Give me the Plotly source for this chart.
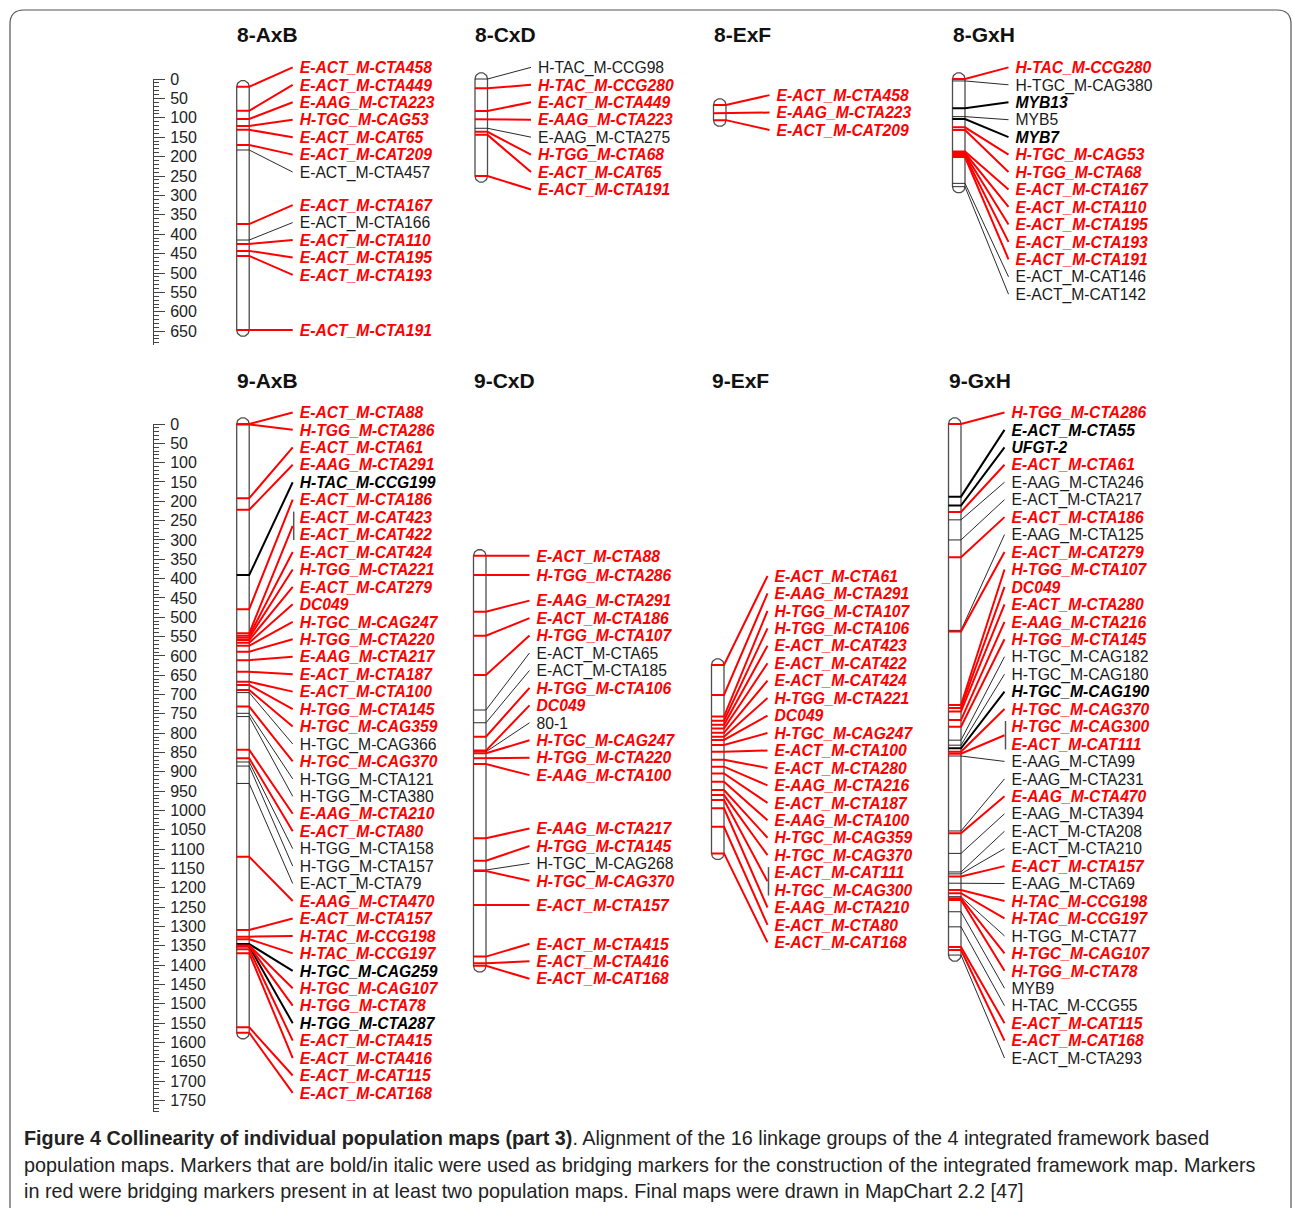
import math
import plotly.graph_objects as go

# ======================= DATA (cM positions) =======================
# kind: "r" = red bridging marker (bold italic), "b" = black marker, "k" = black bold italic marker
LG8_AXB_NAMES = ["E-ACT_M-CTA458", "E-ACT_M-CTA449", "E-AAG_M-CTA223", "H-TGC_M-CAG53",
                 "E-ACT_M-CAT65", "E-ACT_M-CAT209", "E-ACT_M-CTA457", "E-ACT_M-CTA167",
                 "E-ACT_M-CTA166", "E-ACT_M-CTA110", "E-ACT_M-CTA195", "E-ACT_M-CTA193",
                 "E-ACT_M-CTA191"]
LG8_AXB_CM = [20, 82, 103, 121, 131, 170, 183, 374, 415, 425, 443, 456, 647]
LG8_AXB_KIND = ["r", "r", "r", "r", "r", "r", "b", "r", "b", "r", "r", "r", "r"]

LG8_CXD_NAMES = ["H-TAC_M-CCG98", "H-TAC_M-CCG280", "E-ACT_M-CTA449", "E-AAG_M-CTA223",
                 "E-AAG_M-CTA275", "H-TGG_M-CTA68", "E-ACT_M-CAT65", "E-ACT_M-CTA191"]
LG8_CXD_CM = [0, 24, 82.5, 104, 127, 136, 144, 250]
LG8_CXD_KIND = ["b", "r", "r", "r", "b", "r", "r", "r"]

LG8_EXF_NAMES = ["E-ACT_M-CTA458", "E-AAG_M-CTA223", "E-ACT_M-CAT209"]
LG8_EXF_CM = [67, 88, 106]
LG8_EXF_KIND = ["r", "r", "r"]

LG8_GXH_NAMES = ["H-TAC_M-CCG280", "H-TGC_M-CAG380", "MYB13", "MYB5", "MYB7",
                 "H-TGC_M-CAG53", "H-TGG_M-CTA68", "E-ACT_M-CTA167", "E-ACT_M-CTA110",
                 "E-ACT_M-CTA195", "E-ACT_M-CTA193", "E-ACT_M-CTA191", "E-ACT_M-CAT146",
                 "E-ACT_M-CAT142"]
LG8_GXH_CM = [0, 5, 75.5, 97, 103, 124.5, 131.5, 187, 191, 194, 198, 201, 269, 277.5]
LG8_GXH_KIND = ["r", "b", "k", "b", "k", "r", "r", "r", "r", "r", "r", "r", "b", "b"]

LG9_AXB_NAMES = ["E-ACT_M-CTA88", "H-TGG_M-CTA286", "E-ACT_M-CTA61", "E-AAG_M-CTA291",
                 "H-TAC_M-CCG199", "E-ACT_M-CTA186", "E-ACT_M-CAT423", "E-ACT_M-CAT422",
                 "E-ACT_M-CAT424", "H-TGG_M-CTA221", "E-ACT_M-CAT279", "DC049",
                 "H-TGC_M-CAG247", "H-TGG_M-CTA220", "E-AAG_M-CTA217", "E-ACT_M-CTA187",
                 "E-ACT_M-CTA100", "H-TGG_M-CTA145", "H-TGC_M-CAG359", "H-TGC_M-CAG366",
                 "H-TGC_M-CAG370", "H-TGG_M-CTA121", "H-TGG_M-CTA380", "E-AAG_M-CTA210",
                 "E-ACT_M-CTA80", "H-TGG_M-CTA158", "H-TGG_M-CTA157", "E-ACT_M-CTA79",
                 "E-AAG_M-CTA470", "E-ACT_M-CTA157", "H-TAC_M-CCG198", "H-TAC_M-CCG197",
                 "H-TGC_M-CAG259", "H-TGC_M-CAG107", "H-TGG_M-CTA78", "H-TGG_M-CTA287",
                 "E-ACT_M-CTA415", "E-ACT_M-CTA416", "E-ACT_M-CAT115", "E-ACT_M-CAT168"]
LG9_AXB_CM = [0, 1, 192, 222, 391, 479, 541.5, 541.5, 548, 553, 559, 566, 574, 589, 611, 641,
              667, 675, 688, 695, 731, 748.5, 757, 843, 865, 874.5, 885, 930, 1119.5, 1309,
              1326.5, 1333, 1345.5, 1349, 1350.5, 1352, 1359, 1369.5, 1561, 1575]
LG9_AXB_KIND = ["r", "r", "r", "r", "k", "r", "r", "r", "r", "r", "r", "r", "r", "r", "r", "r",
                "r", "r", "r", "b", "r", "b", "b", "r", "r", "b", "b", "b", "r", "r", "r", "r",
                "k", "r", "r", "k", "r", "r", "r", "r"]

LG9_CXD_NAMES = ["E-ACT_M-CTA88", "H-TGG_M-CTA286", "E-AAG_M-CTA291", "E-ACT_M-CTA186",
                 "H-TGG_M-CTA107", "E-ACT_M-CTA65", "E-ACT_M-CTA185", "H-TGG_M-CTA106",
                 "DC049", "80-1", "H-TGC_M-CAG247", "H-TGG_M-CTA220", "E-AAG_M-CTA100",
                 "E-AAG_M-CTA217", "H-TGG_M-CTA145", "H-TGC_M-CAG268", "H-TGC_M-CAG370",
                 "E-ACT_M-CTA157", "E-ACT_M-CTA415", "E-ACT_M-CTA416", "E-ACT_M-CAT168"]
LG9_CXD_CM = [341, 390.5, 485.5, 548, 649.5, 740, 773, 809, 845, 848, 852, 865, 880,
              1072, 1130, 1154, 1156.5, 1244.5, 1378, 1395.5, 1402]
LG9_CXD_KIND = ["r", "r", "r", "r", "r", "b", "b", "r", "r", "b", "r", "r", "r",
                "r", "r", "b", "r", "r", "r", "r", "r"]

LG9_EXF_NAMES = ["E-ACT_M-CTA61", "E-AAG_M-CTA291", "H-TGG_M-CTA107", "H-TGG_M-CTA106",
                 "E-ACT_M-CAT423", "E-ACT_M-CAT422", "E-ACT_M-CAT424", "H-TGG_M-CTA221",
                 "DC049", "H-TGC_M-CAG247", "E-ACT_M-CTA100", "E-ACT_M-CTA280",
                 "E-AAG_M-CTA216", "E-ACT_M-CTA187", "E-AAG_M-CTA100", "H-TGC_M-CAG359",
                 "H-TGC_M-CAG370", "E-ACT_M-CAT111", "H-TGC_M-CAG300", "E-AAG_M-CTA210",
                 "E-ACT_M-CTA80", "E-ACT_M-CAT168"]
LG9_EXF_CM = [623.5, 701, 757, 767.5, 778, 788, 799, 809, 817.5, 830.5, 848, 869, 886.5,
              904, 925.5, 947, 960, 973, 973, 994.5, 1042, 1111]
LG9_EXF_KIND = ["r"] * 22

LG9_GXH_NAMES = ["H-TGG_M-CTA286", "E-ACT_M-CTA55", "UFGT-2", "E-ACT_M-CTA61",
                 "E-AAG_M-CTA246", "E-ACT_M-CTA217", "E-ACT_M-CTA186", "E-AAG_M-CTA125",
                 "E-ACT_M-CAT279", "H-TGG_M-CTA107", "DC049", "E-ACT_M-CTA280",
                 "E-AAG_M-CTA216", "H-TGG_M-CTA145", "H-TGC_M-CAG182", "H-TGC_M-CAG180",
                 "H-TGC_M-CAG190", "H-TGC_M-CAG370", "H-TGC_M-CAG300", "E-ACT_M-CAT111",
                 "E-AAG_M-CTA99", "E-AAG_M-CTA231", "E-AAG_M-CTA470", "E-AAG_M-CTA394",
                 "E-ACT_M-CTA208", "E-ACT_M-CTA210", "E-ACT_M-CTA157", "E-AAG_M-CTA69",
                 "H-TAC_M-CCG198", "H-TAC_M-CCG197", "H-TGG_M-CTA77", "H-TGC_M-CAG107",
                 "H-TGG_M-CTA78", "MYB9", "H-TAC_M-CCG55", "E-ACT_M-CAT115",
                 "E-ACT_M-CAT168", "E-ACT_M-CTA293"]
LG9_GXH_CM = [0, 188, 211, 227.5, 248, 300, 345, 534, 537, 727, 735, 744, 766, 783, 818, 831,
              839, 848, 853, 853, 859, 1053, 1059, 1111, 1159, 1164, 1171, 1188, 1206, 1214,
              1223, 1227, 1231.5, 1262, 1301, 1353, 1361, 1374]
LG9_GXH_KIND = ["r", "k", "k", "r", "b", "b", "r", "b", "r", "r", "r", "r", "r", "r", "b", "b",
                "k", "r", "r", "r", "b", "b", "r", "b", "b", "b", "r", "b", "r", "r", "b", "r",
                "r", "b", "b", "r", "r", "b"]

TITLES = ["8-AxB", "8-CxD", "8-ExF", "8-GxH", "9-AxB", "9-CxD", "9-ExF", "9-GxH"]

CAPTION_BOLD = "Figure 4 Collinearity of individual population maps (part 3)"
CAPTION_LINES = [
    ". Alignment of the 16 linkage groups of the 4 integrated framework based",
    "population maps. Markers that are bold/in italic were used as bridging markers for the construction of the integrated framework map. Markers",
    "in red were bridging markers present in at least two population maps. Final maps were drawn in MapChart 2.2 [47]",
]

# ======================= LAYOUT / STYLE =======================
W, H = 1293, 1208
FONT = "Liberation Sans, Arial, Helvetica, sans-serif"
ROWS = {
    1: dict(y0=79.0, k=0.388, yaxis="y", scale_bottom=345.0, title_y=35.0),
    2: dict(y0=424.0, k=0.3865, yaxis="y2", scale_bottom=1112.0, title_y=381.0),
}
SCALE_X = 153.0
BAR_W = 12.5
LABEL_DX = 63.0
LINE_GAP = 7.0
LABEL_PITCH_PX = 17.45
TOP_LIMIT_CM = -30.0
LABEL_FONT_SIZE = 15.7
TEXT_DROP_PX = 1.8   # puts the visual centre of each label on its connector end

CHROMS = [
    (LG8_AXB_NAMES, LG8_AXB_CM, LG8_AXB_KIND, 1, 236.7),
    (LG8_CXD_NAMES, LG8_CXD_CM, LG8_CXD_KIND, 1, 475.0),
    (LG8_EXF_NAMES, LG8_EXF_CM, LG8_EXF_KIND, 1, 713.5),
    (LG8_GXH_NAMES, LG8_GXH_CM, LG8_GXH_KIND, 1, 952.5),
    (LG9_AXB_NAMES, LG9_AXB_CM, LG9_AXB_KIND, 2, 236.7),
    (LG9_CXD_NAMES, LG9_CXD_CM, LG9_CXD_KIND, 2, 473.5),
    (LG9_EXF_NAMES, LG9_EXF_CM, LG9_EXF_KIND, 2, 711.5),
    (LG9_GXH_NAMES, LG9_GXH_CM, LG9_GXH_KIND, 2, 948.5),
]

STYLE = {
    "r": dict(line="#ff0000", width=2.0, text="#ff0000", bold=True),
    "b": dict(line="#2a2a2a", width=1.0, text="#1a1a1a", bold=False),
    "k": dict(line="#000000", width=2.0, text="#000000", bold=True),
}


def place_labels(pos, pitch, top):
    """MapChart-like label placement: clusters centred on the midpoint of their markers."""
    def start_of(i0, i1):
        n = i1 - i0 + 1
        mid = (pos[i0] + pos[i1]) / 2.0
        return max(mid - (n - 1) * pitch / 2.0, top)

    clusters = []
    for i in range(len(pos)):
        clusters.append([i, i, start_of(i, i)])
        while len(clusters) > 1:
            a, b = clusters[-2], clusters[-1]
            end_a = a[2] + (a[1] - a[0]) * pitch
            if b[2] < end_a + pitch - 1e-9:
                clusters[-2:] = [[a[0], b[1], start_of(a[0], b[1])]]
            else:
                break
    out = [0.0] * len(pos)
    for i0, i1, s in clusters:
        for j in range(i0, i1 + 1):
            out[j] = s + (j - i0) * pitch
    return out


fig = go.Figure()
bar_traces, line_traces, text_traces = [], [], []

for names, cms, kinds, row, bx in CHROMS:
    rw = ROWS[row]
    k = rw["k"]
    yax = rw["yaxis"]
    r_px = BAR_W / 2.0
    r_cm = r_px / k
    cx = bx + r_px
    first, last = cms[0], cms[-1]

    # chromosome outline (rounded bar)
    xs, ys = [], []
    for i in range(25):
        th = math.pi * i / 24
        xs.append(cx + r_px * math.cos(th))
        ys.append(first - r_cm * math.sin(th))
    for i in range(25):
        th = math.pi + math.pi * i / 24
        xs.append(cx + r_px * math.cos(th))
        ys.append(last - r_cm * math.sin(th))
    xs.append(xs[0])
    ys.append(ys[0])
    bar_traces.append(go.Scatter(x=xs, y=ys, yaxis=yax, mode="lines", fill="toself",
                                 fillcolor="white", line=dict(color="#4d4d4d", width=1.3),
                                 hoverinfo="skip", showlegend=False))

    pitch = LABEL_PITCH_PX / k
    lab = place_labels(cms, pitch, TOP_LIMIT_CM)
    lx = bx + LABEL_DX

    # group co-located markers
    groups = []
    i = 0
    n = len(cms)
    while i < n:
        j = i
        while j + 1 < n and cms[j + 1] == cms[i]:
            j += 1
        groups.append((i, j))
        i = j + 1

    seg = {kk: ([], []) for kk in STYLE}
    brx, bry = [], []
    for i, j in groups:
        kind = kinds[i]
        ly = (lab[i] + lab[j]) / 2.0
        sx, sy = seg[kind]
        sx += [bx, bx + BAR_W, lx - LINE_GAP, None]
        sy += [cms[i], cms[i], ly, None]
        if j > i:
            brx += [lx - 6, lx - 6, None]
            bry += [lab[i] - 5.5 / k, lab[j] + 5.5 / k, None]
    for kind in ["b", "k", "r"]:
        sx, sy = seg[kind]
        if sx:
            st = STYLE[kind]
            line_traces.append(go.Scatter(x=sx, y=sy, yaxis=yax, mode="lines",
                                          line=dict(color=st["line"], width=st["width"]),
                                          hoverinfo="skip", showlegend=False))
    if brx:
        line_traces.append(go.Scatter(x=brx, y=bry, yaxis=yax, mode="lines",
                                      line=dict(color="#555555", width=1.5),
                                      hoverinfo="skip", showlegend=False))

    texts, colors = [], []
    for nm, kd in zip(names, kinds):
        st = STYLE[kd]
        texts.append(f"<b><i>{nm}</i></b>" if st["bold"] else nm)
        colors.append(st["text"])
    text_traces.append(go.Scatter(x=[lx] * n, y=[v + TEXT_DROP_PX / k for v in lab], yaxis=yax,
                                  mode="text", text=texts, textposition="middle right",
                                  textfont=dict(family=FONT, size=LABEL_FONT_SIZE, color=colors),
                                  hoverinfo="skip", showlegend=False, cliponaxis=False))

for t in bar_traces + line_traces + text_traces:
    fig.add_trace(t)

# dummy traces so the two scale axes are drawn
for yax in ["y3", "y4"]:
    fig.add_trace(go.Scatter(x=[-100], y=[0], yaxis=yax, mode="markers",
                             marker=dict(opacity=0), hoverinfo="skip", showlegend=False))


def scale_axis(row):
    rw = ROWS[row]
    top_frac = 1 - rw["y0"] / H
    bot_frac = 1 - rw["scale_bottom"] / H
    max_cm = (rw["scale_bottom"] - rw["y0"]) / rw["k"]
    return dict(domain=[bot_frac, top_frac], range=[max_cm, 0], anchor="free",
                position=SCALE_X / W, side="right", showline=True, linecolor="#444444",
                linewidth=1, ticks="outside", ticklen=11, tickwidth=1, tickcolor="#444444",
                tick0=0, dtick=50, showgrid=False, zeroline=False, fixedrange=True,
                ticklabelstandoff=2,
                tickfont=dict(family=FONT, size=16, color="#222222"),
                minor=dict(ticks="outside", ticklen=5, dtick=10, tickcolor="#444444",
                           tickwidth=1, showgrid=False))


fig.update_layout(
    width=W, height=H, margin=dict(l=0, r=0, t=0, b=0, pad=0, autoexpand=False),
    paper_bgcolor="white", plot_bgcolor="rgba(0,0,0,0)", showlegend=False,
    xaxis=dict(range=[0, W], domain=[0, 1], visible=False, fixedrange=True),
    yaxis=dict(domain=[0, 1], range=[(H - ROWS[1]["y0"]) / ROWS[1]["k"], -ROWS[1]["y0"] / ROWS[1]["k"]],
               visible=False, fixedrange=True),
    yaxis2=dict(overlaying="y", range=[(H - ROWS[2]["y0"]) / ROWS[2]["k"], -ROWS[2]["y0"] / ROWS[2]["k"]],
                visible=False, fixedrange=True),
    yaxis3=scale_axis(1),
    yaxis4=scale_axis(2),
)

# chromosome titles
annotations = []
for title, (names, cms, kinds, row, bx) in zip(TITLES, CHROMS):
    annotations.append(dict(text=f"<b>{title}</b>", x=bx - 2, xref="x", xanchor="left",
                            y=1 - ROWS[row]["title_y"] / H, yref="paper", yanchor="middle",
                            showarrow=False, font=dict(family=FONT, size=21, color="#111111")))

# caption
cap_font = dict(family=FONT, size=19.8, color="#222222")
cap_y = [1138, 1165, 1191]
cap_texts = [f"<b>{CAPTION_BOLD}</b>{CAPTION_LINES[0]}", CAPTION_LINES[1], CAPTION_LINES[2]]
for yy, tx in zip(cap_y, cap_texts):
    annotations.append(dict(text=tx, x=22 / W, xref="paper", xanchor="left", y=1 - yy / H,
                            yref="paper", yanchor="middle", showarrow=False, font=cap_font))
fig.update_layout(annotations=annotations)


# outer rounded frame
def px(x, y):
    return f"{x / W:.5f},{1 - y / H:.5f}"


frame = (f"M {px(10, H + 20)} L {px(10, 24)} Q {px(10, 10)} {px(24, 10)} "
         f"L {px(1277, 10)} Q {px(1291, 10)} {px(1291, 24)} L {px(1291, H + 20)}")
fig.add_shape(type="path", path=frame, xref="paper", yref="paper",
              line=dict(color="#555555", width=1.2))

fig.write_html("out.html", config={"displayModeBar": False},
               post_script="document.body.style.margin='0';document.body.style.overflow='hidden';")
